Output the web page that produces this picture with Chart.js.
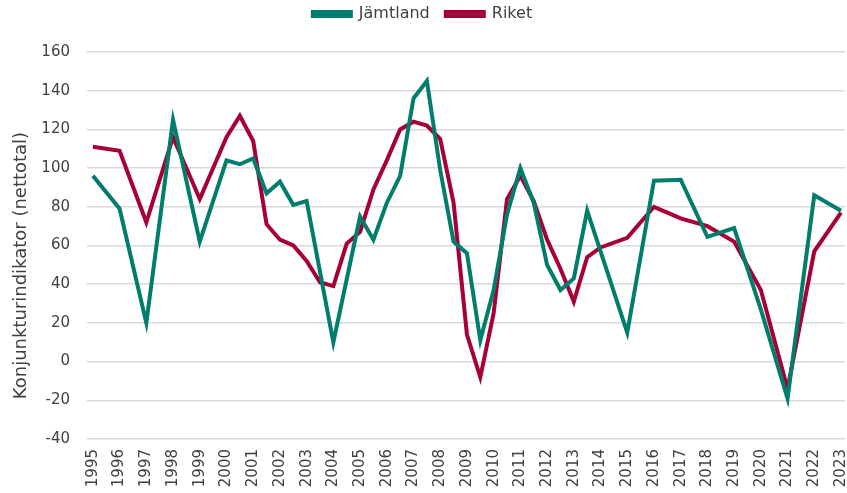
<!DOCTYPE html>
<html>
<head>
<meta charset="utf-8">
<script src="https://cdn.jsdelivr.net/npm/chart.js@4.4.1/dist/chart.umd.min.js"></script>
<style>
  html, body { margin: 0; padding: 0; background: #fff; }
  #wrap { width: 847px; height: 493px; }
</style>
</head>
<body>
<div id="wrap"><canvas id="konjChart"></canvas></div>
<script>
'use strict';

// #region ***  Data                                     ***********
const tickYears = [];
for (let y = 1995; y <= 2023; y++) tickYears.push(y);

const jamtlandYears = [1995, 1996, 1997, 1998, 1999, 2000, 2000.5, 2001, 2001.5, 2002, 2002.5, 2003, 2004, 2005, 2005.5, 2006, 2006.5, 2007, 2007.5, 2008, 2008.5, 2009, 2009.5, 2010, 2010.5, 2011, 2011.5, 2012, 2012.5, 2013, 2013.5, 2015, 2016, 2017, 2018, 2019, 2020, 2021, 2022, 2023];
const jamtlandValues = [96, 79, 20, 125, 62, 104, 102, 105, 87, 93, 81, 83, 10, 75, 63, 82, 96, 136, 145, 99, 62, 56, 11, 37, 76, 100, 82, 50, 37, 43, 78, 15, 93.5, 94, 64.5, 69, 27, -19, 86, 78];

const riketYears = [1995, 1996, 1997, 1998, 1999, 2000, 2000.5, 2001, 2001.5, 2002, 2002.5, 2003, 2003.5, 2004, 2004.5, 2005, 2005.5, 2006, 2006.5, 2007, 2007.5, 2008, 2008.5, 2009, 2009.5, 2010, 2010.5, 2011, 2011.5, 2012, 2012.5, 2013, 2013.5, 2014, 2015, 2016, 2017, 2018, 2019, 2020, 2021, 2022, 2023];
const riketValues = [111, 109, 72, 116, 84, 116, 127, 114, 71, 63, 60, 52, 41, 39, 61, 67, 89, 104, 120, 124, 122, 115, 82, 14, -8, 25, 84, 96, 83, 63, 48, 31, 54, 59, 64, 80, 74, 70, 62, 37, -14, 57, 77];
// #endregion

const textColor = '#404040';
const fontFamily = '"DejaVu Sans", sans-serif';

const toPoints = function (xs, ys) {
  return xs.map((x, i) => ({ x: x, y: ys[i] }));
};

// legend keeps a fixed height so the plot starts lower
const legendHeight = {
  id: 'legendHeight',
  beforeInit: function (chart) {
    const origFit = chart.legend.fit;
    chart.legend.fit = function () {
      origFit.bind(chart.legend)();
      this.height = 62;
    };
  }
};

const showChart = function () {
  const data = {
    datasets: [
      {
        label: 'Jämtland',
        data: toPoints(jamtlandYears, jamtlandValues),
        borderColor: '#007d6c',
        backgroundColor: '#007d6c',
        borderWidth: 4,
        pointRadius: 0,
        tension: 0
      },
      {
        label: 'Riket',
        data: toPoints(riketYears, riketValues),
        borderColor: '#a60036',
        backgroundColor: '#a60036',
        borderWidth: 4,
        pointRadius: 0,
        tension: 0
      }
    ]
  };

  const config = {
    type: 'line',
    data: data,
    plugins: [legendHeight],
    options: {
      responsive: true,
      maintainAspectRatio: false,
      animation: false,
      layout: { padding: { left: 0, right: 2, top: -10, bottom: 0 } },
      plugins: {
        tooltip: { enabled: false },
        legend: {
          position: 'top',
          labels: {
            color: textColor,
            font: { family: fontFamily, size: 16 },
            boxWidth: 38,
            boxHeight: 4,
            padding: 16
          }
        }
      },
      scales: {
        x: {
          type: 'linear',
          min: 1994.78,
          max: 2023.15,
          afterBuildTicks: function (scale) {
            scale.ticks = tickYears.map(v => ({ value: v }));
          },
          afterFit: function (scale) {
            scale.height = 54;
            scale.paddingLeft = 0;
            scale.paddingRight = 0;
          },
          grid: { display: false, drawTicks: false },
          border: { display: false },
          ticks: {
            color: textColor,
            font: { family: fontFamily, size: 15 },
            autoSkip: false,
            minRotation: 90,
            maxRotation: 90,
            padding: 10,
            callback: v => String(v)
          }
        },
        y: {
          min: -40,
          max: 160,
          afterFit: function (scale) { scale.width = 87; },
          grid: { color: '#d9d9d9', lineWidth: 1.5, drawTicks: false },
          border: { display: false },
          ticks: {
            stepSize: 20,
            color: textColor,
            font: { family: fontFamily, size: 15 },
            padding: 17
          },
          title: {
            display: true,
            text: 'Konjunkturindikator (nettotal)       ',
            color: textColor,
            font: { family: fontFamily, size: 18 },
            padding: { top: 11, bottom: 0 }
          }
        }
      }
    }
  };

  const ctx = document.getElementById('konjChart').getContext('2d');
  new Chart(ctx, config);
};

document.addEventListener('DOMContentLoaded', showChart);
</script>
</body>
</html>
